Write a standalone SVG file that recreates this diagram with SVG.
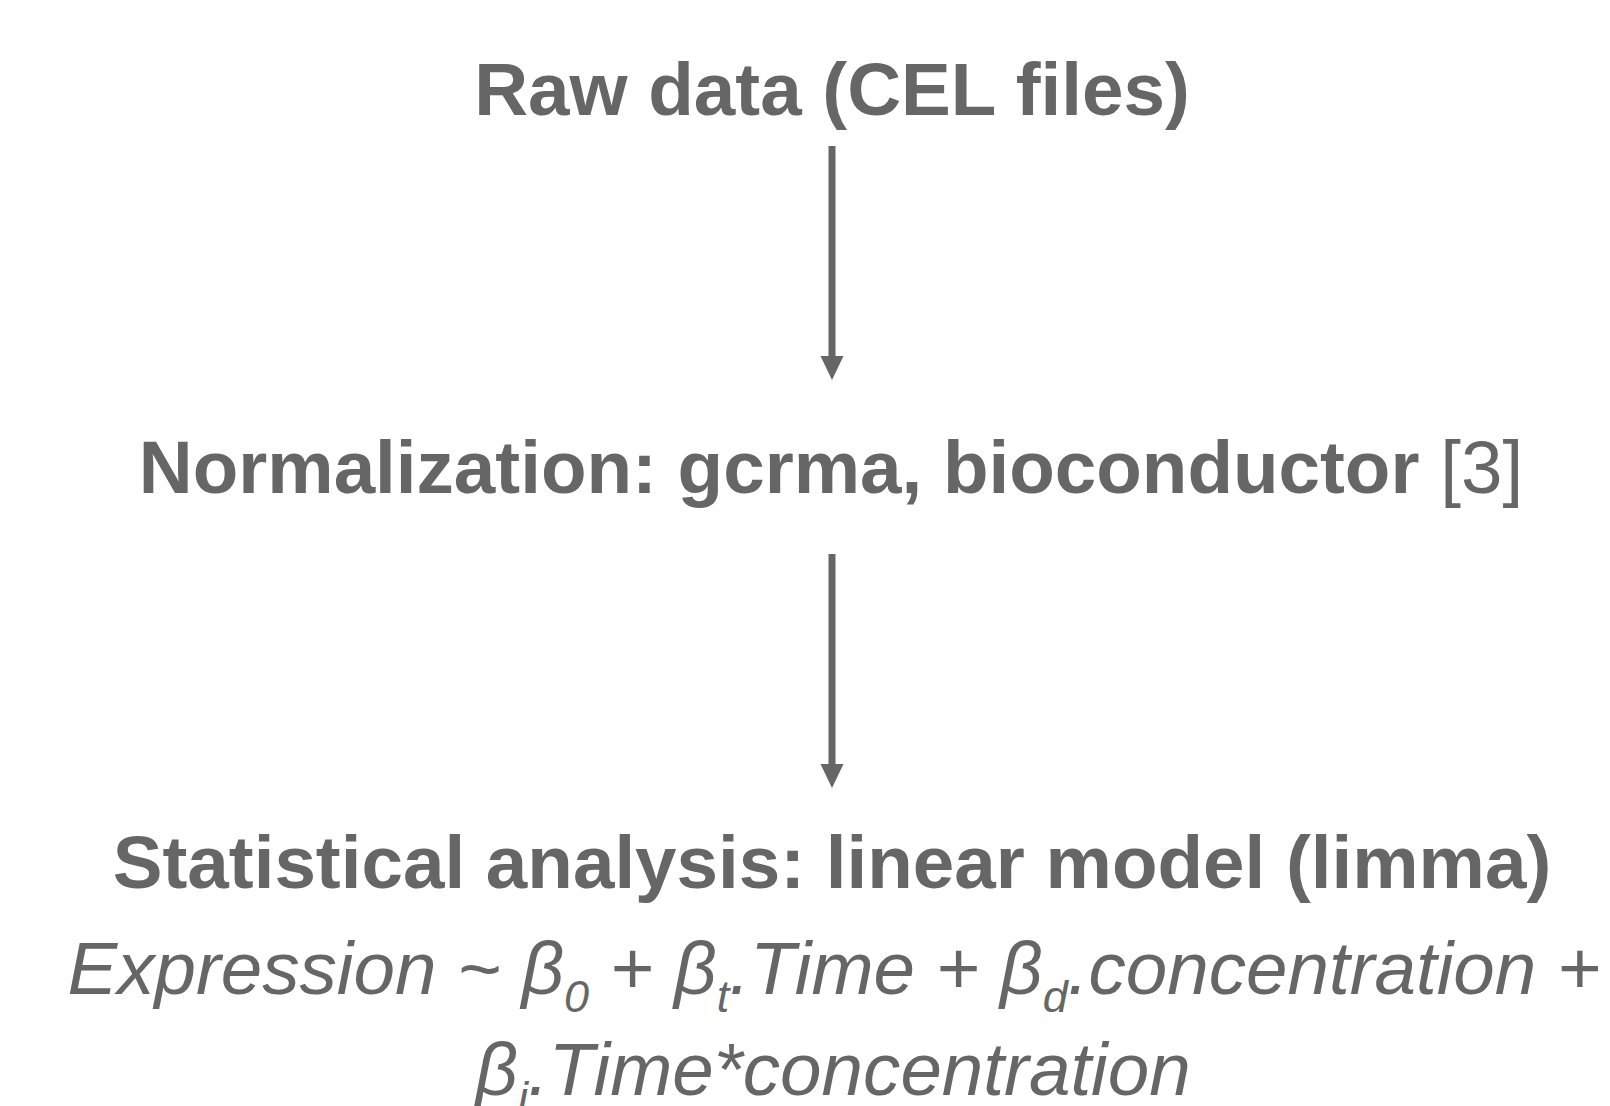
<svg xmlns="http://www.w3.org/2000/svg" width="1610" height="1106" viewBox="0 0 1610 1106">
<style>
text{font-family:"Liberation Sans",Arial,sans-serif;fill:#666666;text-anchor:middle}
.b{font-weight:bold;font-size:74.6px}
.r{font-weight:normal}
.i{font-style:italic;font-size:74.6px}
.s{font-size:45px}
.conn line{stroke:#666666;stroke-width:7}
.conn polygon{fill:#666666}
</style>
<rect width="1610" height="1106" fill="#ffffff"/>
<g id="node-raw"><text class="b" x="832" y="115">Raw data (CEL files)</text></g>
<g id="node-norm"><text class="b" x="831" y="493">Normalization: gcrma, bioconductor <tspan class="r">[3]</tspan></text></g>
<g id="node-stat">
<text class="b" x="832" y="888">Statistical analysis: linear model (limma)</text>
<text class="i" x="834" y="994">Expression ~ β<tspan class="s" dy="18">0</tspan><tspan dy="-18"> + β</tspan><tspan class="s" dy="18">t</tspan><tspan dy="-18">.Time + β</tspan><tspan class="s" dy="18">d</tspan><tspan dy="-18">.concentration +</tspan></text>
<text class="i" x="833" y="1095">β<tspan class="s" dy="18">i</tspan><tspan dy="-18">.Time*concentration</tspan></text>
</g>
<g class="conn" id="connectors">
<line x1="832" y1="146" x2="832" y2="358"/>
<polygon points="820.5,356 843.5,356 832,380"/>
<line x1="832" y1="554" x2="832" y2="766"/>
<polygon points="820.5,764 843.5,764 832,788"/>
</g>
</svg>
